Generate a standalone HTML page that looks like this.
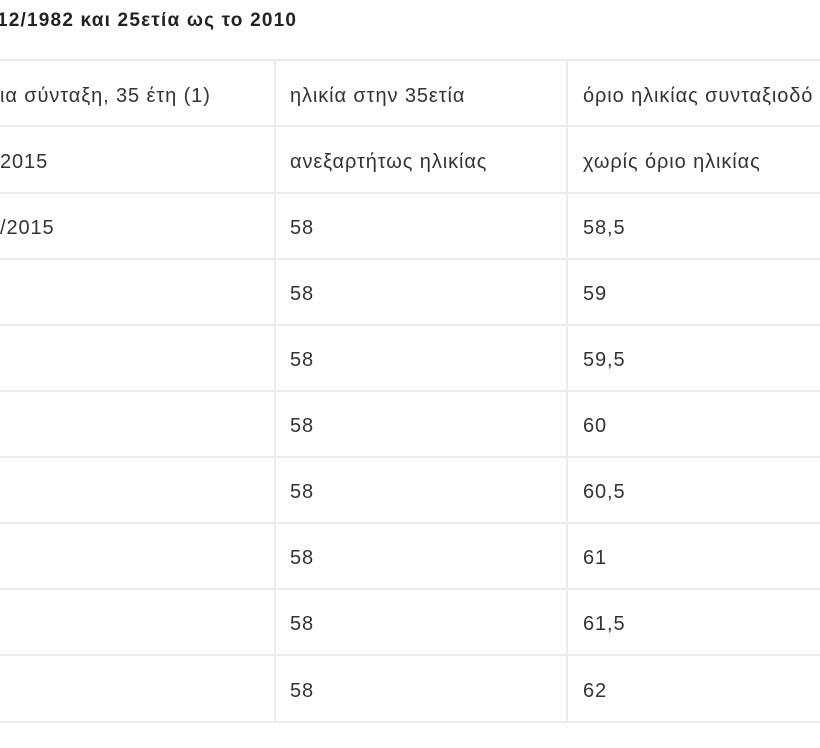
<!DOCTYPE html>
<html><head><meta charset="utf-8"><style>
body{margin:0;width:820px;height:748px;background:#fff;overflow:hidden;position:relative;font-family:"Liberation Sans","DejaVu Sans",sans-serif;color:#333}
.t{position:absolute;font-size:20px;line-height:20px;white-space:nowrap;letter-spacing:0.9px}
.h{position:absolute;left:0;width:820px;height:2px;background:#ebebeb}
.v{position:absolute;width:1.5px;background:#ebebeb;top:60px;height:662px}
</style></head><body>
<div class="t" style="left:-3px;top:11px;font-weight:bold;color:#222;font-size:19px;letter-spacing:1.2px">12/1982 και 25ετία ως το 2010</div>
<div class="h" style="top:59px"></div>
<div class="h" style="top:125px"></div>
<div class="h" style="top:192px"></div>
<div class="h" style="top:258px"></div>
<div class="h" style="top:324px"></div>
<div class="h" style="top:390px"></div>
<div class="h" style="top:456px"></div>
<div class="h" style="top:522px"></div>
<div class="h" style="top:588px"></div>
<div class="h" style="top:654px"></div>
<div class="h" style="top:721px"></div>
<div class="v" style="left:274px"></div>
<div class="v" style="left:566px"></div>
<div class="t" style="left:0;top:86px">ια σύνταξη, 35 έτη (1)</div>
<div class="t" style="left:290px;top:86px">ηλικία στην 35ετία</div>
<div class="t" style="left:583px;top:86px">όριο ηλικίας συνταξιοδό</div>
<div class="t" style="left:0;top:152px">2015</div>
<div class="t" style="left:290px;top:152px">ανεξαρτήτως ηλικίας</div>
<div class="t" style="left:583px;top:152px">χωρίς όριο ηλικίας</div>
<div class="t" style="left:0;top:218px">/2015</div>
<div class="t" style="left:290px;top:218px">58</div><div class="t" style="left:583px;top:218px">58,5</div>
<div class="t" style="left:290px;top:284px">58</div><div class="t" style="left:583px;top:284px">59</div>
<div class="t" style="left:290px;top:350px">58</div><div class="t" style="left:583px;top:350px">59,5</div>
<div class="t" style="left:290px;top:416px">58</div><div class="t" style="left:583px;top:416px">60</div>
<div class="t" style="left:290px;top:482px">58</div><div class="t" style="left:583px;top:482px">60,5</div>
<div class="t" style="left:290px;top:548px">58</div><div class="t" style="left:583px;top:548px">61</div>
<div class="t" style="left:290px;top:614px">58</div><div class="t" style="left:583px;top:614px">61,5</div>
<div class="t" style="left:290px;top:681px">58</div><div class="t" style="left:583px;top:681px">62</div>
</body></html>
